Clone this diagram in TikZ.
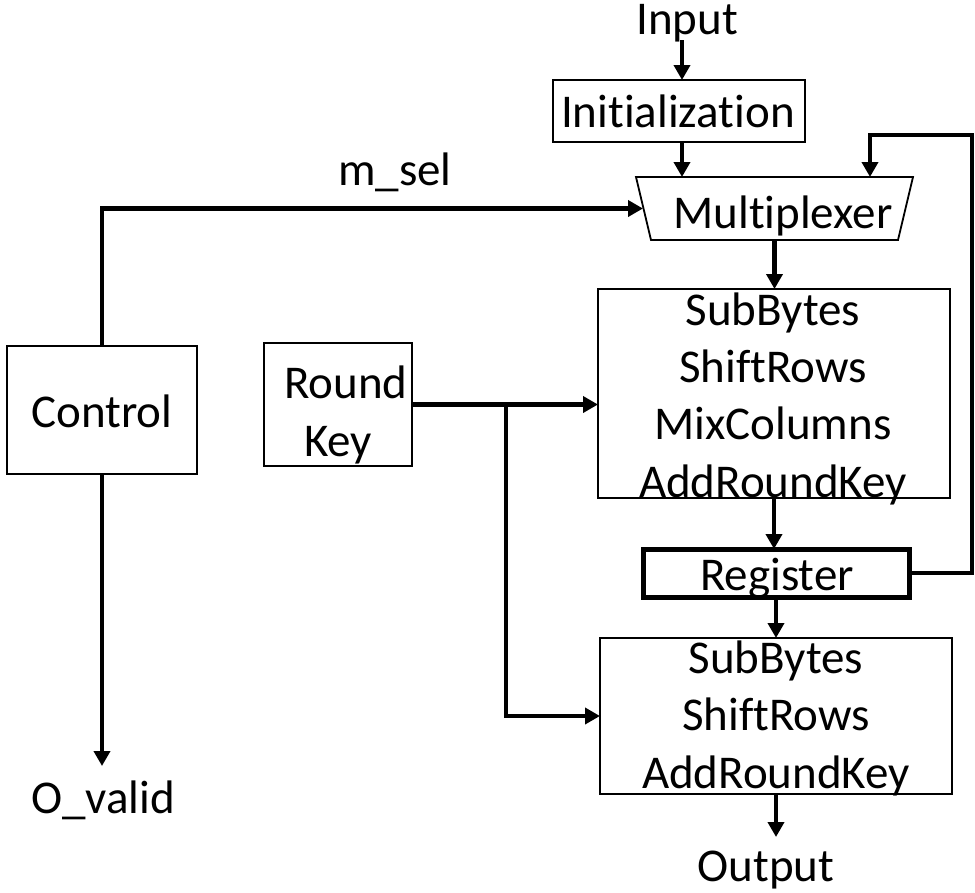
\documentclass[tikz,border=0pt]{standalone}
\usepackage{fontspec}
\setmainfont{Carlito}[Ligatures=NoCommon]
\usetikzlibrary{arrows.meta}
\begin{document}
\begin{tikzpicture}[x=1pt,y=-1pt,
  every node/.style={outer sep=0pt, inner sep=0pt},
  blk/.style={draw, line width=1.8pt},
  txt/.style={anchor=base, font=\fontsize{47pt}{57pt}\selectfont},
  wire/.style={line width=4.5pt},
  arr/.style={wire, -{Triangle[length=15pt,width=16pt]}}]
\useasboundingbox (0,0) rectangle (975,892);
% boxes
\node[blk, minimum width=252pt, minimum height=62pt] (init) at (679,111) {};
\node[minimum width=277pt, minimum height=63pt] (mux) at (774.5,208.5) {};
\draw[blk] (mux.north west) -- (mux.north east) -- ([xshift=-15pt]mux.south east) -- ([xshift=15pt]mux.south west) -- cycle;
\node[blk, minimum width=352pt, minimum height=209pt] (box1) at (774,393.5) {};
\node[draw, line width=5pt, minimum width=266pt, minimum height=48pt] (reg) at (776,573) {};
\node[blk, minimum width=352pt, minimum height=156pt] (box2) at (776,716) {};
\node[blk, minimum width=190pt, minimum height=128pt] (ctrl) at (102,410) {};
\node[blk, minimum width=148pt, minimum height=123pt] (rk) at (338,404.5) {};
% texts
\node[txt] (inp) at (687,34) {Input};
\node[txt] (tinit) at (678,127) {Initialization};
\node[txt] (tmux) at (783,228) {Multiplexer};
\node[txt] (msel) at (395,185) {m\_sel};
\node[txt] (b1a) at (773,325) {SubBytes};
\node[txt] (b1b) at (773,382) {ShiftRows};
\node[txt] (b1c) at (773,439) {MixColumns};
\node[txt] (b1d) at (773,497) {AddRoundKey};
\node[txt] (treg) at (777,590) {Register};
\node[txt] (b2a) at (776,673) {SubBytes};
\node[txt] (b2b) at (776,730) {ShiftRows};
\node[txt] (b2c) at (776,788) {AddRoundKey};
\node[txt] (out) at (766,881) {Output};
\node[txt] (tctrl) at (102,427) {Control};
\node[txt] (rk1) at (346,398) {Round};
\node[txt] (rk2) at (338,456) {Key};
\node[txt] (oval) at (103,813) {O\_valid};
% helper coordinates
\coordinate (intop) at (682,40);
\coordinate (fb) at (972,135);
\coordinate (outtip) at (776,837);
\coordinate (ovtip) at (102,766);
\path (rk.east) ++(94,0) coordinate (br);
% connectors
\draw[arr] (intop) -- (intop |- init.north);
\draw[arr] ([xshift=3pt]init.south) -- ([xshift=3pt]init.south |- mux.north);
\draw[arr] (reg.east) -| (fb) -| ([xshift=95.5pt]mux.north);
\draw[arr] (ctrl.north) |- ([xshift=7pt]mux.west);
\draw[arr] (mux.south) -- (mux.south |- box1.north);
\draw[arr] (box1.south) -- (box1.south |- reg.north);
\draw[arr] (reg.south) -- (reg.south |- box2.north);
\draw[arr] (box2.south) -- (outtip);
\draw[arr] (ctrl.south) -- (ovtip);
\draw[arr] (rk.east) -- (rk.east -| box1.west);
\draw[arr] (br) |- (box2.west);
\end{tikzpicture}
\end{document}
